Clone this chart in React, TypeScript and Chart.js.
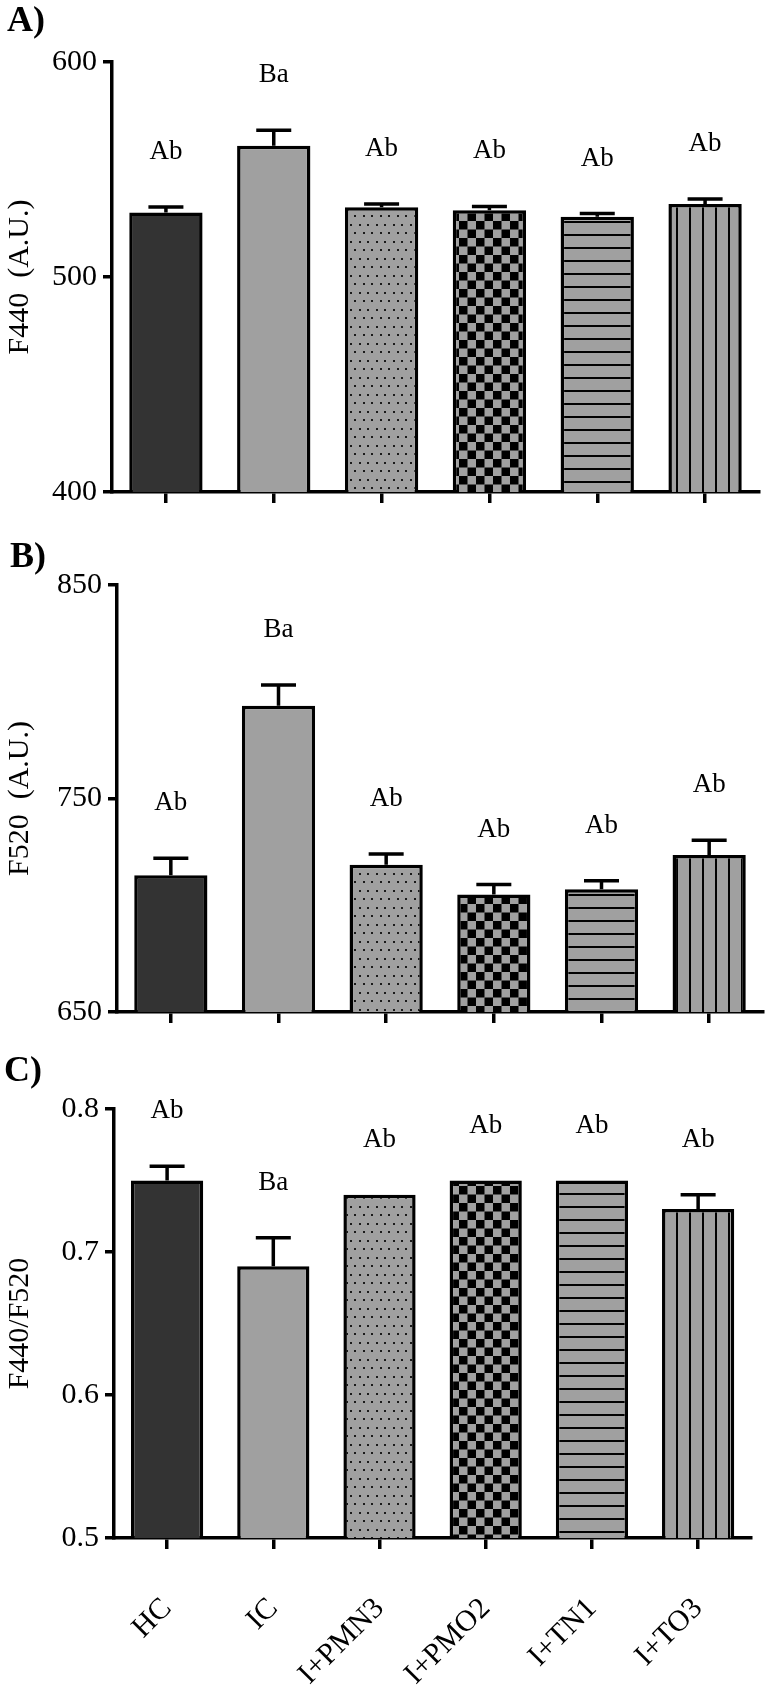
import React, { useEffect, useRef } from 'react';
import { Chart, registerables } from 'chart.js';

Chart.register(...registerables);

// ---------------- data ----------------
const categories = ['HC', 'IC', 'I+PMN3', 'I+PMO2', 'I+TN1', 'I+TO3'];

const f440Means = [530, 561, 532.5, 531, 528, 534];
const f440Errors = [2.6, 7.3, 1.5, 1.8, 1.5, 2.3];
const f440Letters = ['Ab', 'Ba', 'Ab', 'Ab', 'Ab', 'Ab'];
const f440Ticks = [400, 500, 600];

const f520Means = [714, 793.5, 719, 705, 707.5, 723.5];
const f520Errors = [8, 9.7, 5, 4.7, 4, 7];
const f520Letters = ['Ab', 'Ba', 'Ab', 'Ab', 'Ab', 'Ab'];
const f520Ticks = [650, 750, 850];

const ratioMeans = [0.75, 0.69, 0.74, 0.75, 0.75, 0.73];
const ratioErrors = [0.01, 0.02, 0, 0, 0, 0.01];
const ratioLetters = ['Ab', 'Ba', 'Ab', 'Ab', 'Ab', 'Ab'];
const ratioTicks = [0.5, 0.6, 0.7, 0.8];

// ---------------- styles ----------------
const SERIF = "'Liberation Serif', 'Times New Roman', serif";
const GREY = '#a0a0a0';
const DARK = '#333333';
const LINE = 3.5;
const PAGE_W = 766;

type Panel = {
  tag: string;
  title: string;
  means: number[];
  errors: number[];
  letters: string[];
  ticks: number[];
  decimals: number;
  showLabels: boolean;
  canvasTop: number;
  canvasH: number;
  axisX: number;
  plotTop: number;
  plotBottom: number;
  plotRight: number;
  tagX: number;
  tagBaseline: number;
};

const panels: Panel[] = [
  {
    tag: 'A)', title: 'F440  (A.U.)', means: f440Means, errors: f440Errors, letters: f440Letters,
    ticks: f440Ticks, decimals: 0, showLabels: false,
    canvasTop: 0, canvasH: 530, axisX: 112, plotTop: 62, plotBottom: 492, plotRight: 759, tagX: 7, tagBaseline: 31,
  },
  {
    tag: 'B)', title: 'F520  (A.U.)', means: f520Means, errors: f520Errors, letters: f520Letters,
    ticks: f520Ticks, decimals: 0, showLabels: false,
    canvasTop: 530, canvasH: 520, axisX: 117, plotTop: 585, plotBottom: 1012, plotRight: 763, tagX: 10, tagBaseline: 567,
  },
  {
    tag: 'C)', title: 'F440/F520', means: ratioMeans, errors: ratioErrors, letters: ratioLetters,
    ticks: ratioTicks, decimals: 1, showLabels: true,
    canvasTop: 1050, canvasH: 641, axisX: 114, plotTop: 1109, plotBottom: 1538, plotRight: 761, tagX: 4, tagBaseline: 1081,
  },
];

function makePattern(w: number, h: number, draw: (g: CanvasRenderingContext2D) => void): CanvasPattern {
  const c = document.createElement('canvas');
  c.width = w;
  c.height = h;
  const g = c.getContext('2d')!;
  g.fillStyle = GREY;
  g.fillRect(0, 0, w, h);
  g.fillStyle = '#000';
  draw(g);
  return g.createPattern(c, 'repeat')!;
}

function makeFills(): (string | CanvasPattern)[] {
  const dots = makePattern(17, 17, (g) => {
    g.fillStyle = '#1a1a1a';
    g.fillRect(2, 3, 2, 2);
    g.fillRect(10, 3, 2, 2);
    g.fillRect(6, 11, 2, 2);
    g.fillRect(14, 11, 2, 2);
  });
  const checks = makePattern(17, 17, (g) => {
    g.fillRect(0, 0, 8.5, 8.5);
    g.fillRect(8.5, 8.5, 8.5, 8.5);
  });
  const hlines = makePattern(4, 13, (g) => {
    g.fillRect(0, 0, 4, 2);
  });
  const vlines = makePattern(13, 4, (g) => {
    g.fillRect(0, 0, 2, 4);
  });
  return [DARK, GREY, dots, checks, hlines, vlines];
}

function annotPlugin(p: Panel) {
  return {
    id: 'annot' + p.tag,
    afterDatasetsDraw(chart: any) {
      const { ctx } = chart;
      const x = chart.scales.x;
      const y = chart.scales.y;
      ctx.save();
      p.means.forEach((m, i) => {
        const px = x.getPixelForValue(i);
        const yTop = y.getPixelForValue(m);
        const yErr = y.getPixelForValue(m + p.errors[i]);
        if (p.errors[i] > 0) {
          ctx.strokeStyle = '#000';
          ctx.lineWidth = LINE;
          ctx.lineCap = 'butt';
          ctx.beginPath();
          ctx.moveTo(px, yTop);
          ctx.lineTo(px, yErr);
          ctx.moveTo(px - 17.5, yErr);
          ctx.lineTo(px + 17.5, yErr);
          ctx.stroke();
        }
        ctx.fillStyle = '#000';
        ctx.font = `27px ${SERIF}`;
        ctx.textAlign = 'center';
        ctx.textBaseline = 'alphabetic';
        ctx.fillText(p.letters[i], px, yErr - 48);
      });
      ctx.font = `bold 36px ${SERIF}`;
      ctx.textAlign = 'left';
      ctx.textBaseline = 'alphabetic';
      ctx.fillText(p.tag, p.tagX, p.tagBaseline - p.canvasTop);
      ctx.restore();
    },
  };
}

function buildConfig(p: Panel, fills: (string | CanvasPattern)[]): any {
  const xHeight = p.canvasTop + p.canvasH - p.plotBottom;
  const min = p.ticks[0];
  const max = p.ticks[p.ticks.length - 1];
  return {
    type: 'bar',
    data: {
      labels: categories,
      datasets: [
        {
          data: p.means,
          backgroundColor: fills,
          borderColor: '#000',
          borderWidth: LINE,
          borderSkipped: 'start',
          categoryPercentage: 1,
          barPercentage: 0.68,
        },
      ],
    },
    options: {
      animation: false,
      responsive: false,
      devicePixelRatio: 1,
      layout: {
        padding: { top: p.plotTop - p.canvasTop, right: PAGE_W - p.plotRight, left: 0, bottom: 0 },
      },
      plugins: {
        legend: { display: false },
        tooltip: { enabled: false },
      },
      scales: {
        x: {
          type: 'category',
          offset: true,
          grid: {
            display: true,
            offset: false,
            drawOnChartArea: false,
            drawTicks: true,
            tickLength: 11,
            tickWidth: LINE,
            tickColor: '#000',
            color: '#000',
            lineWidth: LINE,
          },
          border: { display: true, color: '#000', width: LINE },
          ticks: {
            display: p.showLabels,
            autoSkip: false,
            minRotation: 45,
            maxRotation: 45,
            padding: 42,
            labelOffset: 0,
            color: '#000',
            font: { family: SERIF, size: 30, lineHeight: 1.2 },
          },
          afterFit: (s: any) => {
            s.height = xHeight;
          },
        },
        y: {
          type: 'linear',
          min,
          max,
          afterBuildTicks: (s: any) => {
            s.ticks = p.ticks.map((v) => ({ value: v }));
          },
          grid: {
            display: true,
            drawOnChartArea: false,
            drawTicks: true,
            tickLength: 9,
            tickWidth: LINE,
            tickColor: '#000',
            color: '#000',
            lineWidth: LINE,
          },
          border: { display: true, color: '#000', width: LINE },
          ticks: {
            padding: 6,
            color: '#000',
            font: { family: SERIF, size: 30 },
            callback: (v: any) => Number(v).toFixed(p.decimals),
          },
          title: {
            display: true,
            text: p.title,
            color: '#000',
            font: { family: SERIF, size: 30, lineHeight: 1.2 },
            padding: { top: 2, bottom: 0 },
          },
          afterFit: (s: any) => {
            s.width = p.axisX;
          },
        },
      },
    },
    plugins: [annotPlugin(p)],
  };
}

export default function App() {
  const r0 = useRef<HTMLCanvasElement>(null);
  const r1 = useRef<HTMLCanvasElement>(null);
  const r2 = useRef<HTMLCanvasElement>(null);

  useEffect(() => {
    const fills = makeFills();
    const refs = [r0, r1, r2];
    const charts = panels.map((p, i) => new Chart(refs[i].current!, buildConfig(p, fills)));
    return () => charts.forEach((c) => c.destroy());
  }, []);

  const refs = [r0, r1, r2];
  return (
    <div style={{ position: 'absolute', left: 0, top: 0, width: PAGE_W, height: 1691, background: '#fff' }}>
      {panels.map((p, i) => (
        <canvas
          key={p.tag}
          ref={refs[i]}
          width={PAGE_W}
          height={p.canvasH}
          style={{ position: 'absolute', left: 0, top: p.canvasTop, width: PAGE_W, height: p.canvasH, display: 'block' }}
        />
      ))}
    </div>
  );
}
